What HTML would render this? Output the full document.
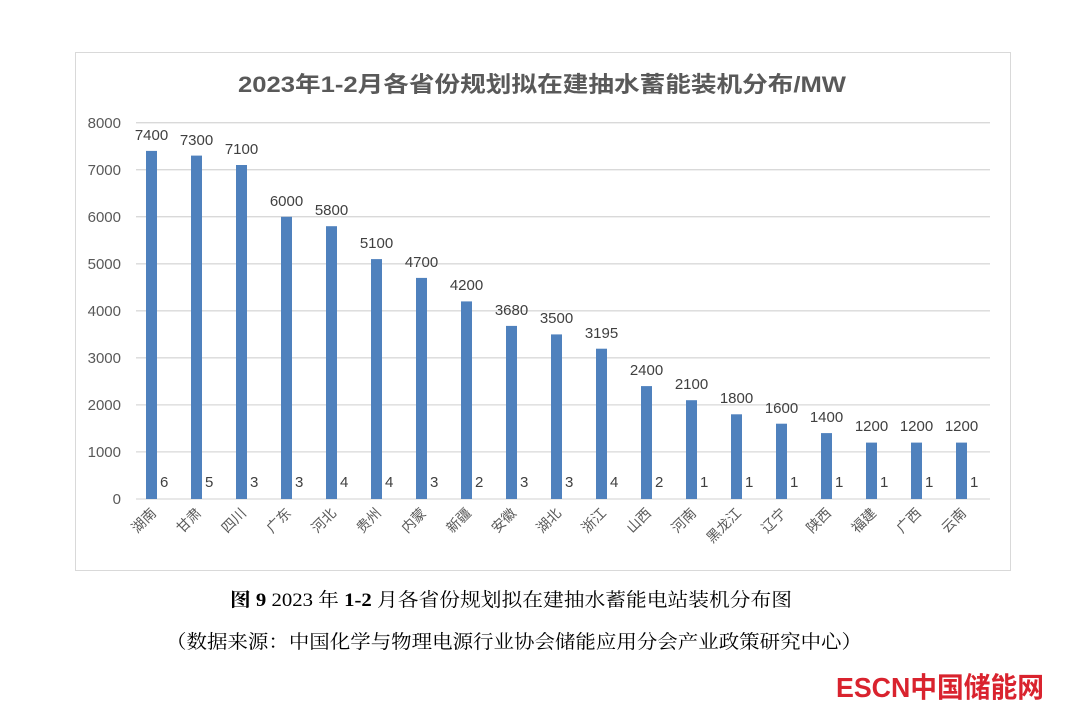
<!DOCTYPE html>
<html><head><meta charset="utf-8"><style>
html,body{margin:0;padding:0;background:#fff;}
svg{display:block;}
</style></head><body>
<svg width="1068" height="716" xmlns="http://www.w3.org/2000/svg">
<rect x="75.5" y="52.5" width="935" height="518" fill="#fff" stroke="#d9d9d9"/>
<text x="238" y="92" font-family="Liberation Sans, Noto Sans CJK SC, sans-serif" font-size="22" font-weight="bold" fill="#595959" textLength="608" lengthAdjust="spacingAndGlyphs">2023年1-2月各省份规划拟在建抽水蓄能装机分布/MW</text>
<g stroke="#d9d9d9" stroke-width="1.3">
<line x1="136" x2="990" y1="122.7" y2="122.7"/><line x1="136" x2="990" y1="169.7" y2="169.7"/>
<line x1="136" x2="990" y1="216.7" y2="216.7"/><line x1="136" x2="990" y1="263.8" y2="263.8"/>
<line x1="136" x2="990" y1="310.8" y2="310.8"/><line x1="136" x2="990" y1="357.8" y2="357.8"/>
<line x1="136" x2="990" y1="404.9" y2="404.9"/><line x1="136" x2="990" y1="451.9" y2="451.9"/>
<line x1="136" x2="990" y1="499" y2="499"/>
</g>
<g font-family="Liberation Sans, sans-serif" font-size="15" fill="#595959" text-anchor="end">
<text x="121" y="128">8000</text><text x="121" y="175">7000</text><text x="121" y="222">6000</text>
<text x="121" y="269">5000</text><text x="121" y="316">4000</text><text x="121" y="363">3000</text>
<text x="121" y="410">2000</text><text x="121" y="457">1000</text><text x="121" y="504">0</text>
</g>
<g fill="#4f81bd">
<rect x="146" y="150.9" width="11" height="348.1"/><rect x="191" y="155.6" width="11" height="343.4"/>
<rect x="236" y="165" width="11" height="334"/><rect x="281" y="216.8" width="11" height="282.2"/>
<rect x="326" y="226.2" width="11" height="272.8"/><rect x="371" y="259.1" width="11" height="239.9"/>
<rect x="416" y="277.9" width="11" height="221.1"/><rect x="461" y="301.4" width="11" height="197.6"/>
<rect x="506" y="325.9" width="11" height="173.1"/><rect x="551" y="334.4" width="11" height="164.6"/>
<rect x="596" y="348.7" width="11" height="150.3"/><rect x="641" y="386.1" width="11" height="112.9"/>
<rect x="686" y="400.2" width="11" height="98.8"/><rect x="731" y="414.3" width="11" height="84.7"/>
<rect x="776" y="423.7" width="11" height="75.3"/><rect x="821" y="433.1" width="11" height="65.9"/>
<rect x="866" y="442.6" width="11" height="56.4"/><rect x="911" y="442.6" width="11" height="56.4"/>
<rect x="956" y="442.6" width="11" height="56.4"/>
</g>
<g font-family="Liberation Sans, sans-serif" font-size="15" fill="#404040" text-anchor="middle">
<text x="151.5" y="140">7400</text><text x="196.5" y="145">7300</text><text x="241.5" y="154">7100</text>
<text x="286.5" y="206">6000</text><text x="331.5" y="215">5800</text><text x="376.5" y="248">5100</text>
<text x="421.5" y="267">4700</text><text x="466.5" y="290">4200</text><text x="511.5" y="315">3680</text>
<text x="556.5" y="323">3500</text><text x="601.5" y="338">3195</text><text x="646.5" y="375">2400</text>
<text x="691.5" y="389">2100</text><text x="736.5" y="403">1800</text><text x="781.5" y="413">1600</text>
<text x="826.5" y="422">1400</text><text x="871.5" y="431">1200</text><text x="916.5" y="431">1200</text>
<text x="961.5" y="431">1200</text>
</g>
<g font-family="Liberation Sans, sans-serif" font-size="15" fill="#404040">
<text x="160" y="487">6</text><text x="205" y="487">5</text><text x="250" y="487">3</text>
<text x="295" y="487">3</text><text x="340" y="487">4</text><text x="385" y="487">4</text>
<text x="430" y="487">3</text><text x="475" y="487">2</text><text x="520" y="487">3</text>
<text x="565" y="487">3</text><text x="610" y="487">4</text><text x="655" y="487">2</text>
<text x="700" y="487">1</text><text x="745" y="487">1</text><text x="790" y="487">1</text>
<text x="835" y="487">1</text><text x="880" y="487">1</text><text x="925" y="487">1</text>
<text x="970" y="487">1</text>
</g>
<g font-family="Liberation Sans, Noto Sans CJK SC, sans-serif" font-size="14" fill="#595959" text-anchor="end">
<text transform="translate(157,514) rotate(-45)">湖南</text>
<text transform="translate(202,514) rotate(-45)">甘肃</text>
<text transform="translate(247,514) rotate(-45)">四川</text>
<text transform="translate(292,514) rotate(-45)">广东</text>
<text transform="translate(337,514) rotate(-45)">河北</text>
<text transform="translate(382,514) rotate(-45)">贵州</text>
<text transform="translate(427,514) rotate(-45)">内蒙</text>
<text transform="translate(472,514) rotate(-45)">新疆</text>
<text transform="translate(517,514) rotate(-45)">安徽</text>
<text transform="translate(562,514) rotate(-45)">湖北</text>
<text transform="translate(607,514) rotate(-45)">浙江</text>
<text transform="translate(652,514) rotate(-45)">山西</text>
<text transform="translate(697,514) rotate(-45)">河南</text>
<text transform="translate(742,514) rotate(-45)">黑龙江</text>
<text transform="translate(787,514) rotate(-45)">辽宁</text>
<text transform="translate(832,514) rotate(-45)">陕西</text>
<text transform="translate(877,514) rotate(-45)">福建</text>
<text transform="translate(922,514) rotate(-45)">广西</text>
<text transform="translate(967,514) rotate(-45)">云南</text>
</g>
<text x="230" y="606" font-family="Liberation Serif, Noto Serif CJK SC, serif" font-size="19" fill="#000" textLength="562" lengthAdjust="spacingAndGlyphs"><tspan font-weight="bold">图 9</tspan> 2023 年 <tspan font-weight="bold">1-2</tspan> 月各省份规划拟在建抽水蓄能电站装机分布图</text>
<text x="166" y="648" font-family="Liberation Serif, Noto Serif CJK SC, serif" font-size="19" fill="#000" textLength="696" lengthAdjust="spacingAndGlyphs">（数据来源：中国化学与物理电源行业协会储能应用分会产业政策研究中心）</text>
<text x="836" y="697" font-family="Liberation Sans, Noto Sans CJK SC, sans-serif" font-size="28" font-weight="bold" fill="#d9232e" textLength="208" lengthAdjust="spacingAndGlyphs">ESCN中国储能网</text>
</svg>
</body></html>
